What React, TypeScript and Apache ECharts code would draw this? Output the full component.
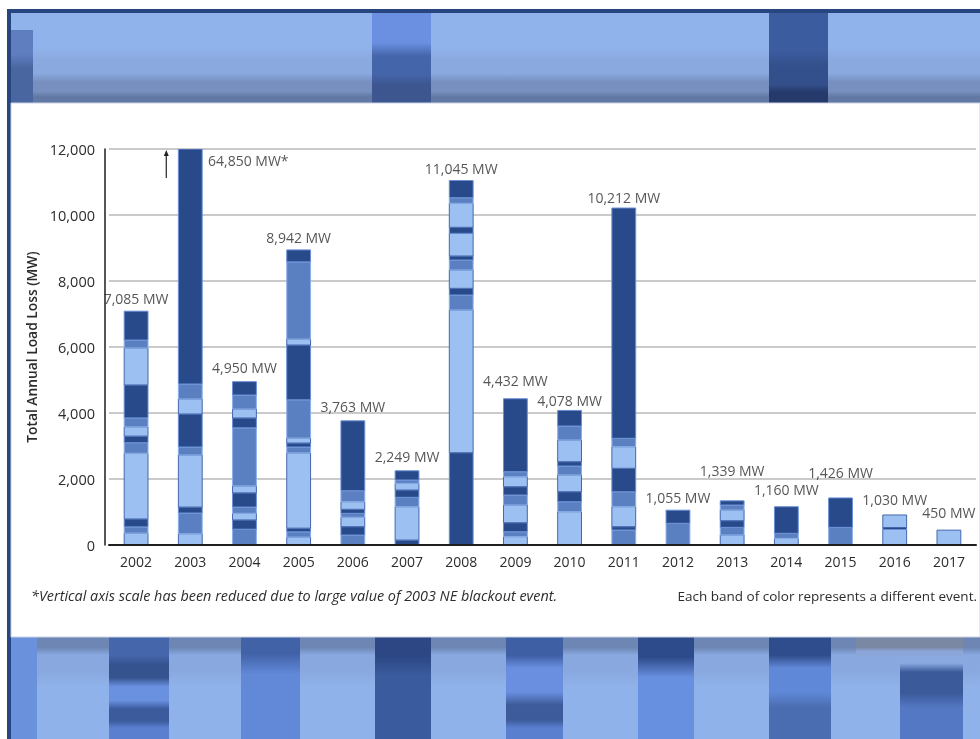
import React, { useEffect, useRef } from 'react';
import * as echarts from 'echarts';

// ---------- DATA ----------
const years = ['2002', '2003', '2004', '2005', '2006', '2007', '2008', '2009', '2010', '2011', '2012', '2013', '2014', '2015', '2016', '2017'];
const totalLabels = ['7,085 MW', '64,850 MW*', '4,950 MW', '8,942 MW', '3,763 MW', '2,249 MW', '11,045 MW', '4,432 MW', '4,078 MW', '10,212 MW', '1,055 MW', '1,339 MW', '1,160 MW', '1,426 MW', '1,030 MW', '450 MW'];
const yTicks = [0, 2000, 4000, 6000, 8000, 10000, 12000];

// bands of each year, bottom to top: [MW, shade]  (D dark, M medium, L light)
const bands2002: [number, string][] = [[360, 'L'], [190, 'M'], [240, 'D'], [1990, 'L'], [320, 'M'], [200, 'D'], [280, 'L'], [270, 'M'], [1000, 'D'], [1120, 'L'], [242, 'M'], [873, 'D']];
const bands2003: [number, string][] = [[340, 'L'], [630, 'M'], [180, 'D'], [1577, 'L'], [243, 'M'], [1000, 'D'], [454, 'L'], [455, 'M'], [59971, 'D']];
const bands2004: [number, string][] = [[480, 'M'], [280, 'D'], [200, 'L'], [190, 'M'], [430, 'D'], [210, 'L'], [1760, 'M'], [300, 'D'], [270, 'L'], [425, 'M'], [405, 'D']];
const bands2005: [number, string][] = [[240, 'L'], [160, 'M'], [110, 'D'], [2280, 'L'], [180, 'M'], [120, 'D'], [150, 'L'], [1160, 'M'], [1660, 'D'], [180, 'L'], [2340, 'M'], [362, 'D']];
const bands2006: [number, string][] = [[303, 'M'], [252, 'D'], [285, 'L'], [120, 'M'], [122, 'D'], [230, 'L'], [333, 'M'], [2118, 'D']];
const bands2007: [number, string][] = [[150, 'D'], [1010, 'L'], [285, 'M'], [222, 'D'], [203, 'L'], [100, 'M'], [279, 'D']];
const bands2008: [number, string][] = [[2797, 'D'], [4324, 'L'], [455, 'M'], [202, 'D'], [555, 'L'], [303, 'M'], [122, 'D'], [687, 'L'], [182, 'D'], [727, 'L'], [171, 'M'], [520, 'D']];
const bands2009: [number, string][] = [[252, 'L'], [151, 'M'], [273, 'D'], [536, 'L'], [303, 'M'], [252, 'D'], [303, 'L'], [152, 'M'], [2210, 'D']];
const bands2010: [number, string][] = [[1009, 'L'], [303, 'M'], [303, 'D'], [506, 'L'], [273, 'M'], [131, 'D'], [657, 'L'], [424, 'M'], [472, 'D']];
const bands2011: [number, string][] = [[455, 'M'], [100, 'D'], [606, 'L'], [454, 'M'], [709, 'D'], [655, 'L'], [254, 'M'], [6979, 'D']];
const bands2012: [number, string][] = [[658, 'M'], [397, 'D']];
const bands2013: [number, string][] = [[303, 'L'], [232, 'M'], [202, 'D'], [323, 'L'], [152, 'M'], [127, 'D']];
const bands2014: [number, string][] = [[200, 'L'], [154, 'M'], [806, 'D']];
const bands2015: [number, string][] = [[535, 'M'], [891, 'D']];
const bands2016: [number, string][] = [[470, 'L'], [60, 'D'], [380, 'L']];
const bands2017: [number, string][] = [[450, 'L']];

const yearBands = [bands2002, bands2003, bands2004, bands2005, bands2006, bands2007, bands2008, bands2009, bands2010, bands2011, bands2012, bands2013, bands2014, bands2015, bands2016, bands2017];

// ---------- STYLE / LAYOUT ----------
const Y_MAX = 12000;
const FONT = '"Open Sans", "Noto Sans", sans-serif';
const TXT = '#2c2c2c';
const shadeKeys = ['D', 'M', 'L'];
const fills: Record<string, string> = { D: '#28498a', M: '#5b80c2', L: '#9dc0f2' };
const strokes: Record<string, string> = { D: '#6a90d6', M: '#8db1ea', L: '#4468ac' };
// label placement relative to top of each bar: [dx, distance above]
const labelDx = [0, 58, 0, 0, 0, 0, 0, 0, 0, 0, 0, 0, 0, 0, 0, 0];
const labelLift = [13, -11, 14, 12, 14, 14, 12.5, 18, 10, 11, 13, 30, 17, 25, 15, 18];

const bandItems: number[][] = [];
yearBands.forEach((bands, i) => {
  let acc = 0;
  bands.forEach(([v, s]) => {
    bandItems.push([i, acc, acc + v, shadeKeys.indexOf(s)]);
    acc += v;
  });
});
const barTops = yearBands.map((b) => b.reduce((a, [v]) => a + v, 0));

// background column helper: vertical gradient from [y0, y1, color] segments
function column(x: number, w: number, y0: number, y1: number, segs: [number, number, string][]) {
  const h = y1 - y0;
  const stops: { offset: number; color: string }[] = [];
  segs.forEach(([a, b, c]) => {
    stops.push({ offset: Math.max(0, Math.min(1, (a + (b - a) * 0.2 - y0) / h)), color: c });
    stops.push({ offset: Math.max(0, Math.min(1, (b - (b - a) * 0.2 - y0) / h)), color: c });
  });
  return {
    type: 'rect', z: -10, silent: true,
    shape: { x, y: y0, width: w, height: h },
    style: { fill: new echarts.graphic.LinearGradient(0, 0, 0, 1, stops) },
  };
}

export default function App() {
  const ref = useRef<HTMLDivElement>(null);
  useEffect(() => {
    if (!ref.current) return;
    const chart = echarts.init(ref.current, null, { renderer: 'svg' });

    const bg: any[] = [
      { type: 'rect', z: -12, silent: true, shape: { x: 0, y: 0, width: 980, height: 739 }, style: { fill: '#ffffff' } },
      // top blurred strip
      column(11, 969, 13, 103, [[13, 55, '#90b3ec'], [55, 78, '#8aa9df'], [78, 95, '#7790c0'], [95, 103, '#6279a3']]),
      column(11, 22, 30, 103, [[30, 60, '#5e7ec0'], [60, 103, '#4a66a0']]),
      column(372, 59, 13, 103, [[13, 50, '#6b90e2'], [50, 80, '#4565aa'], [80, 103, '#3d5690']]),
      column(769, 59, 13, 103, [[13, 60, '#3b5c9f'], [60, 90, '#34508c'], [90, 103, '#25396a']]),
      // bottom blurred strip
      column(11, 969, 637, 739, [[637, 650, '#6d86b4'], [650, 675, '#88a8df'], [675, 739, '#90b2ea']]),
      column(11, 26, 637, 739, [[637, 739, '#6a92dc']]),
      column(109, 60, 637, 739, [[637, 660, '#4566aa'], [660, 682, '#34538f'], [682, 705, '#6a90e0'], [705, 725, '#3b5b9d'], [725, 739, '#5a7fcf']]),
      column(241, 59, 637, 739, [[637, 658, '#4262a8'], [658, 739, '#6189d8']]),
      column(375, 56, 637, 739, [[637, 660, '#2c4783'], [660, 739, '#3a5c9e']]),
      column(506, 57, 637, 739, [[637, 660, '#3f5fa5'], [660, 700, '#6a8fe0'], [700, 725, '#3d5b9a'], [725, 739, '#5a7fcf']]),
      column(638, 56, 637, 739, [[637, 662, '#2d4a8a'], [662, 739, '#6890e0']]),
      column(769, 62, 637, 739, [[637, 660, '#2f4d8c'], [660, 700, '#6088d8'], [700, 739, '#4a6cb0']]),
      column(856, 107, 637, 656, [[637, 650, '#7b88a3'], [650, 656, '#8aa6d8']]),
      column(900, 63, 656, 739, [[656, 665, '#8aa9e0'], [665, 700, '#3a5a9a'], [700, 739, '#5578c4']]),
      // navy frame
      { type: 'rect', z: -9, silent: true, shape: { x: 7, y: 9, width: 973, height: 4 }, style: { fill: '#27457f' } },
      { type: 'rect', z: -9, silent: true, shape: { x: 7, y: 9, width: 4, height: 730 }, style: { fill: '#27457f' } },
      // white panel
      { type: 'rect', z: -9, silent: true, shape: { x: 11, y: 103, width: 969, height: 534 }, style: { fill: '#ffffff', stroke: '#c9d3e4', lineWidth: 1 } },
      // notes
      {
        type: 'text', z: 5, x: 31, y: 595,
        style: { text: '*Vertical axis scale has been reduced due to large value of 2003 NE blackout event.', fontFamily: FONT, fontStyle: 'italic', fontSize: 14.4, fill: TXT, verticalAlign: 'middle', align: 'left' },
      },
      {
        type: 'text', z: 5, x: 977, y: 596,
        style: { text: 'Each band of color represents a different event.', fontFamily: FONT, fontSize: 13.5, fill: TXT, verticalAlign: 'middle', align: 'right' },
      },
    ];

    chart.setOption({
      animation: false,
      graphic: { elements: bg },
      grid: { left: 109, right: 4, top: 149, bottom: 194, containLabel: false },
      xAxis: {
        type: 'category',
        data: years,
        axisTick: { show: false },
        axisLine: { show: true, lineStyle: { color: '#1e1e1e', width: 2 } },
        axisLabel: { color: TXT, fontFamily: FONT, fontSize: 14, margin: 9 },
        z: 5,
      },
      yAxis: {
        type: 'value',
        min: 0,
        max: Y_MAX,
        interval: 2000,
        offset: 4,
        name: 'Total Annual Load Loss (MW)',
        nameLocation: 'middle',
        nameGap: 66,
        nameTextStyle: { color: TXT, fontFamily: FONT, fontSize: 13.8, fontWeight: 600 },
        axisLine: { show: true, lineStyle: { color: '#1e1e1e', width: 1.5 } },
        axisTick: { show: false },
        axisLabel: {
          color: TXT, fontFamily: FONT, fontSize: 14.5, margin: 10,
          formatter: (v: number) => (yTicks.includes(v) ? v.toLocaleString('en-US') : ''),
        },
        splitLine: { show: true, lineStyle: { color: '#b9b9b9', width: 1.5 } },
      },
      series: [
        {
          type: 'custom',
          name: 'events',
          data: bandItems,
          encode: { x: 0, y: [1, 2] },
          clip: true,
          z: 3,
          renderItem: (params: any, api: any) => {
            const cat = api.value(0);
            const s = api.value(1);
            const e = Math.min(api.value(2), Y_MAX);
            const shade = shadeKeys[api.value(3)];
            const p0 = api.coord([cat, s]);
            const p1 = api.coord([cat, e]);
            const w = api.size([1, 0])[0] * 0.44;
            return {
              type: 'rect',
              shape: { x: p0[0] - w / 2, y: p1[1], width: w, height: p0[1] - p1[1] },
              style: { fill: fills[shade], stroke: strokes[shade], lineWidth: 1 },
            };
          },
        },
        {
          type: 'custom',
          name: 'arrow',
          data: [[1, Y_MAX]],
          encode: { x: 0, y: 1 },
          clip: false,
          z: 4,
          renderItem: (params: any, api: any) => {
            const p = api.coord([api.value(0), api.value(1)]);
            const x = p[0] - 24;
            const y = p[1];
            return {
              type: 'group',
              children: [
                { type: 'line', shape: { x1: x, y1: y + 4, x2: x, y2: y + 29 }, style: { stroke: '#222', lineWidth: 1.2 } },
                { type: 'polygon', shape: { points: [[x, y + 1], [x - 2.5, y + 7], [x + 2.5, y + 7]] }, style: { fill: '#222' } },
              ],
            };
          },
        },
        {
          type: 'scatter',
          name: 'totals',
          symbolSize: 0,
          z: 6,
          clip: false,
          data: years.map((_, i) => ({
            value: [i, Math.min(barTops[i], Y_MAX)],
            label: { offset: [labelDx[i], -labelLift[i]] },
          })),
          label: {
            show: true,
            position: 'inside',
            color: TXT,
            fontFamily: FONT,
            fontSize: 14,
            formatter: (p: any) => totalLabels[p.dataIndex],
          },
        },
      ],
    });
    return () => chart.dispose();
  }, []);
  return <div ref={ref} style={{ position: 'fixed', left: 0, top: 0, width: 980, height: 739 }} />;
}
